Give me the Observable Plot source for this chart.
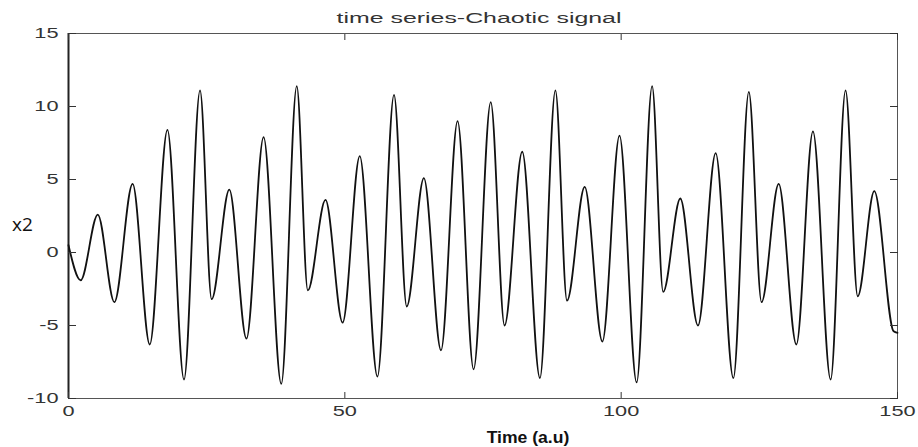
<!DOCTYPE html>
<html>
<head>
<meta charset="utf-8">
<script src="https://cdn.jsdelivr.net/npm/d3@7"></script>
<script src="https://cdn.jsdelivr.net/npm/@observablehq/plot@0.6"></script>
<style>
  html, body { margin: 0; padding: 0; background: #fff; }
  #chart svg { display: block; }
</style>
</head>
<body>
<div id="chart"></div>
<script>
// Extrema (time, x2)
const times = [0, 2.2, 5.3, 8.3, 11.6, 14.7, 17.9, 20.9, 23.8, 25.9, 29.1, 32.2, 35.3, 38.5, 41.3, 43.3,
  46.5, 49.6, 52.7, 55.9, 58.9, 61.2, 64.3, 67.4, 70.4, 73.3, 76.4, 78.9, 82.1, 85.3, 88.1, 90.2,
  93.4, 96.6, 99.7, 102.8, 105.6, 107.6, 110.7, 113.9, 117.1, 120.3, 123.1, 125.4, 128.5, 131.7,
  134.7, 137.9, 140.6, 142.8, 145.8, 149.3, 150];
const values = [0.5, -1.9, 2.6, -3.4, 4.7, -6.3, 8.4, -8.7, 11.1, -3.2, 4.3, -5.9, 7.9, -9.0, 11.4, -2.6,
  3.6, -4.8, 6.6, -8.5, 10.8, -3.7, 5.1, -6.7, 9.0, -8.0, 10.3, -5.0, 6.9, -8.6, 11.1, -3.3,
  4.5, -6.1, 8.0, -8.9, 11.4, -2.7, 3.7, -5.0, 6.8, -8.6, 11.0, -3.4, 4.7, -6.3, 8.3, -8.7,
  11.1, -3.0, 4.2, -5.4, -5.5];
const xTicks = [0, 50, 100, 150];
const yTicks = [-10, -5, 0, 5, 10, 15];
const titleText = "time series-Chaotic signal";
const xLabel = "Time (a.u)";
const yLabel = "x2";

const data = times.map((t, i) => ({t, v: values[i]}));

const sans = "Liberation Sans, Arial, sans-serif";
const fmt = d => String(d);

const chart = Plot.plot({
  width: 918,
  height: 447,
  marginLeft: 68,
  marginRight: 21,
  marginTop: 33,
  marginBottom: 49,
  style: {background: "#fff", overflow: "visible"},
  x: {domain: [0, 150]},
  y: {domain: [-10, 15]},
  marks: [
    Plot.frame({stroke: "#555", strokeWidth: 1}),
    Plot.ruleX([0], {stroke: "#222", strokeWidth: 2}),
    Plot.line(data, {x: "t", y: "v", curve: "monotone-x", stroke: "#111", strokeWidth: 1.8}),
    Plot.axisY(yTicks, {anchor: "left", tickSize: -8, tickPadding: 18, label: null, stroke: "#333",
      tickFormat: fmt, fontFamily: sans, fontSize: 15, fill: "#333"}),
    Plot.axisY(yTicks, {anchor: "right", tickSize: -8, text: null, label: null, stroke: "#333"}),
    Plot.axisX(xTicks, {anchor: "bottom", tickSize: -6, tickPadding: 13, label: null, stroke: "#333",
      tickFormat: fmt, fontFamily: sans, fontSize: 15, fill: "#333"}),
    Plot.axisX(xTicks, {anchor: "top", tickSize: -6, text: null, label: null, stroke: "#333"}),
    Plot.text([titleText], {frameAnchor: "top", dx: -4, dy: -15, lineAnchor: "middle",
      fontFamily: sans, fontSize: 15, fill: "#333"}),
    Plot.text([xLabel], {frameAnchor: "bottom", dx: 45, dy: 39, lineAnchor: "middle",
      fontFamily: sans, fontSize: 16, fontWeight: "bold", fill: "#111"}),
    Plot.text([yLabel], {frameAnchor: "left", textAnchor: "middle", dx: -46, dy: 9, lineAnchor: "middle",
      fontFamily: "Open Sans, sans-serif", fontSize: 19, fill: "#111"})
  ]
});

// the reference's labels are horizontally stretched: scale each text about its anchor point
function stretch(el, sx) {
  const x = parseFloat(el.getAttribute("x")) || 0;
  el.removeAttribute("x");
  const t = el.getAttribute("transform") || "";
  el.setAttribute("transform", `${t} translate(${x},0) scale(${sx},1)`);
}
const root = d3.select(chart);
root.selectAll('g[aria-label="y-axis tick label"] text').each(function () { stretch(this, 1.45); });
root.selectAll('g[aria-label="x-axis tick label"] text').each(function () { stretch(this, 1.45); });
root.selectAll('g[aria-label="text"] text').each(function () {
  const s = this.textContent;
  if (s === titleText) stretch(this, 1.66);
  else if (s === xLabel) stretch(this, 1.1);
});

document.getElementById("chart").appendChild(chart);
</script>
</body>
</html>
